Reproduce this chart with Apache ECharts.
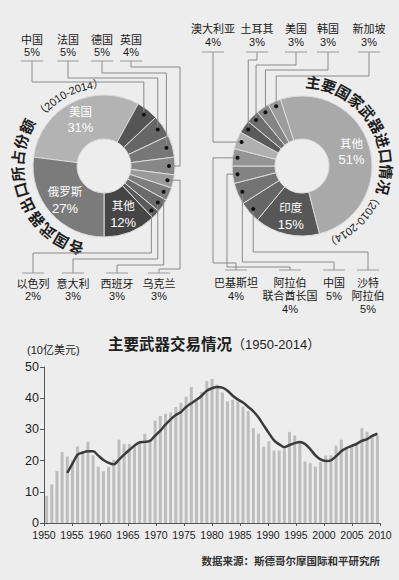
<!DOCTYPE html>
<html>
<head>
<meta charset="utf-8">
<script src="https://cdn.jsdelivr.net/npm/echarts@6/dist/echarts.min.js"></script>
<style>
  html, body { margin: 0; padding: 0; background: #ededed; }
  #chart { width: 399px; height: 580px; }
</style>
</head>
<body>
<div id="chart"></div>
<script>
// 各国武器出口所占份额（2010-2014），顺时针
var exportNames = ['美国', '中国', '法国', '德国', '英国', '乌克兰', '西班牙', '意大利', '以色列', '其他', '俄罗斯'];
var exportValues = [31, 5, 5, 5, 4, 3, 3, 3, 2, 12, 27];
var exportInside = ['美国', '其他', '俄罗斯'];

// 主要国家武器进口情况（2010-2014），顺时针
var importNames = ['其他', '印度', '沙特\n阿拉伯', '中国', '阿拉伯\n联合酋长国', '巴基斯坦', '澳大利亚', '土耳其', '美国', '韩国', '新加坡'];
var importValues = [51, 15, 5, 5, 4, 4, 4, 3, 3, 3, 3];
var importInside = ['其他', '印度'];

// 主要武器交易情况（1950-2014），单位：10亿美元
var years = [1950, 1951, 1952, 1953, 1954, 1955, 1956, 1957, 1958, 1959,
  1960, 1961, 1962, 1963, 1964, 1965, 1966, 1967, 1968, 1969,
  1970, 1971, 1972, 1973, 1974, 1975, 1976, 1977, 1978, 1979,
  1980, 1981, 1982, 1983, 1984, 1985, 1986, 1987, 1988, 1989,
  1990, 1991, 1992, 1993, 1994, 1995, 1996, 1997, 1998, 1999,
  2000, 2001, 2002, 2003, 2004, 2005, 2006, 2007, 2008, 2009,
  2010, 2011, 2012, 2013, 2014];
var tradeValues = [8.7, 12.4, 16.7, 22.8, 21.3, 20.0, 24.6, 23.0, 26.0, 21.7,
  18.0, 16.6, 18.0, 20.3, 26.7, 25.3, 25.3, 25.0, 25.8, 28.6,
  26.4, 32.8, 34.3, 35.0, 35.4, 37.2, 38.5, 40.5, 43.6, 39.0,
  42.0, 45.5, 46.2, 44.3, 41.8, 39.0, 39.5, 40.0, 37.3, 35.9,
  30.4, 28.6, 24.5, 26.2, 23.2, 23.2, 23.8, 29.2, 28.0, 25.8,
  19.7, 19.2, 18.1, 19.5, 21.6, 21.7, 24.8, 26.7, 24.0, 24.5,
  25.4, 30.4, 29.3, 27.5, 28.0];
var trendValues = [null, null, null, null, 16.1, 19.0, 21.9, 22.6, 23.0, 23.0,
  21.6, 20.2, 19.3, 18.8, 20.3, 21.9, 23.4, 24.8, 25.9, 26.0,
  26.3, 28.0, 29.6, 31.5, 33.2, 34.6, 35.6, 37.2, 38.4, 39.5,
  40.8, 42.4, 43.2, 43.6, 43.4, 42.4, 40.8, 39.6, 38.6, 37.2,
  35.8, 33.8, 31.3, 28.8, 26.5, 25.2, 24.3, 25.0, 25.6, 26.0,
  25.3, 23.7, 21.7, 20.4, 19.9, 20.1, 21.4, 23.0, 24.0, 24.7,
  25.4, 26.3, 26.9, 27.9, 28.6];

// 样式
var FONT = "'Liberation Sans', 'Noto Sans CJK SC', sans-serif";
var exportColors = ['#b3b3b3', '#555555', '#666666', '#777777', '#878787', '#9a9a9a', '#7d7d7d', '#6a6a6a', '#5a5a5a', '#454545', '#7b7b7b'];
var importColors = ['#a9a9a9', '#575757', '#666666', '#737373', '#838383', '#959595', '#b0b0b0', '#5a5a5a', '#6e6e6e', '#858585', '#9c9c9c'];

// 饼图位置
var leftPie = { cx: 104, cy: 166, r0: 27, r: 71, start: -82.8 };   // start: 从正上方顺时针的角度
var rightPie = { cx: 302, cy: 166, r0: 27, r: 70, start: -18 };
var DOT_R = 65;

// 引线布局：x 标签中心，laneY 水平段，laneX 先横向走的竖线
var exportLeaders = {
  1: { x: 32, top: true, laneY: 82 },
  2: { x: 68, top: true, laneY: 78 },
  3: { x: 102, top: true, laneY: 73 },
  4: { x: 131, top: true, laneY: 67, laneX: 180 },
  5: { x: 159, top: false, laneY: 269, laneX: 180 },
  6: { x: 117, top: false, laneY: 265 },
  7: { x: 73, top: false, laneY: 259 },
  8: { x: 33, top: false, laneY: 253 }
};
var importLeaders = {
  2: { x: 368, top: false, laneY: 252 },
  3: { x: 334, top: false, laneY: 262 },
  4: { x: 290, top: false, laneY: 267, laneX: 227 },
  5: { x: 236, top: false, laneY: 263, laneX: 213 },
  6: { x: 213, top: true, laneY: 52, laneX: 213 },
  7: { x: 257, top: true, laneY: 60 },
  8: { x: 296, top: true, laneY: 65 },
  9: { x: 328, top: true, laneY: 70 },
  10: { x: 369, top: true, laneY: 76 }
};

var chart = echarts.init(document.getElementById('chart'), null, { renderer: 'svg' });
var ctx = document.createElement('canvas').getContext('2d');

function midAngles(values, start) {
  var total = values.reduce(function (a, b) { return a + b; }, 0);
  var cum = 0;
  return values.map(function (v) {
    var a = start + (cum + v / 2) / total * 360;
    cum += v;
    return a;
  });
}

function pieData(names, values, colors, inside) {
  return names.map(function (n, i) {
    return {
      name: n,
      value: values[i],
      itemStyle: { color: colors[i] },
      label: { show: inside.indexOf(n) >= 0 }
    };
  });
}

// 沿圆弧排文字
function arcText(cx, cy, r, startDeg, text, size, weight, spacing) {
  ctx.font = weight + ' ' + size + 'px ' + FONT;
  var out = [];
  var theta = startDeg;
  var prevW = 0;
  for (var i = 0; i < text.length; i++) {
    var ch = text[i];
    var w = ctx.measureText(ch).width;
    if (i > 0) theta += (prevW / 2 + spacing + w / 2) / r * 180 / Math.PI;
    prevW = w;
    var rad = theta * Math.PI / 180;
    out.push({
      type: 'text',
      x: cx + r * Math.sin(rad),
      y: cy - r * Math.cos(rad),
      rotation: -rad,
      z: 10,
      silent: true,
      style: {
        text: ch, fontSize: size, fontWeight: weight, fontFamily: FONT,
        fill: '#1e1e1e', align: 'center', verticalAlign: 'middle'
      }
    });
  }
  return out;
}

// 小扇区的黑点、引线、标签
function leaders(pie, names, values, layout, topUl, bottomUl, topName, bottomName, lh) {
  var mids = midAngles(values, pie.start);
  var out = [];
  Object.keys(layout).forEach(function (k) {
    var i = +k;
    var L = layout[k];
    var rad = mids[i] * Math.PI / 180;
    var dx = pie.cx + DOT_R * Math.sin(rad);
    var dy = pie.cy - DOT_R * Math.cos(rad);
    var ul = L.top ? topUl : bottomUl;
    var pts = [[dx, dy]];
    if (L.laneX != null) {
      pts.push([L.laneX, dy], [L.laneX, L.laneY]);
    } else {
      pts.push([dx, L.laneY]);
    }
    pts.push([L.x, L.laneY], [L.x, ul]);
    out.push({
      type: 'polyline', z: 10, silent: true,
      shape: { points: pts },
      style: { stroke: '#8a8a8a', lineWidth: 1, fill: null }
    });
    out.push({
      type: 'line', z: 10, silent: true,
      shape: { x1: L.x - 11, y1: ul, x2: L.x + 11, y2: ul },
      style: { stroke: '#9a9a9a', lineWidth: 1 }
    });
    out.push({
      type: 'circle', z: 11, silent: true,
      shape: { cx: dx, cy: dy, r: 2 },
      style: { fill: '#111' }
    });
    var nameY = L.top ? topName : bottomName;
    out.push({
      type: 'text', z: 10, silent: true,
      x: L.x, y: nameY - lh / 2,
      style: {
        text: names[i] + '\n' + values[i] + '%',
        fontSize: 11, fontFamily: FONT, fill: '#1a1a1a',
        align: 'center', verticalAlign: 'top', lineHeight: lh
      }
    });
  });
  return out;
}

var insideLabel = {
  position: 'inside',
  formatter: function (p) { return '{n|' + p.name + '}\n{v|' + p.value + '%}'; },
  rich: {
    n: { fontSize: 11.5, color: '#fff', lineHeight: 16, fontFamily: FONT },
    v: { fontSize: 13, color: '#fff', lineHeight: 16, fontFamily: FONT }
  }
};

function pieSeries(pie, data) {
  return {
    type: 'pie',
    silent: true,
    center: [pie.cx, pie.cy],
    radius: [pie.r0, pie.r],
    startAngle: 90 - pie.start,
    clockwise: true,
    avoidLabelOverlap: false,
    label: insideLabel,
    labelLine: { show: false },
    itemStyle: { borderColor: '#dcdcdc', borderWidth: 1 },
    emphasis: { disabled: true },
    data: data
  };
}

var graphics = []
  .concat(arcText(leftPie.cx, leftPie.cy, 86, 199, '各国武器出口所占份额', 15, 'bold', 1.4))
  .concat(arcText(leftPie.cx, leftPie.cy, 82, 311, '（2010-2014）', 11, 'normal', 0.1))
  .concat(arcText(rightPie.cx, rightPie.cy, 84, 7.7, '主要国家武器进口情况', 15, 'bold', 0.8))
  .concat(arcText(rightPie.cx, rightPie.cy, 81, 113.6, '（2010-2014）', 11, 'normal', 0.1))
  .concat(leaders(leftPie, exportNames, exportValues, exportLeaders, 61, 273, 40, 284, 12))
  .concat(leaders(rightPie, importNames, importValues, importLeaders, 52, 270, 29, 283, 12.8));

graphics.push({
  type: 'text', silent: true, x: 27, y: 350,
  style: { text: '(10亿美元)', fontSize: 11, fontFamily: FONT, fill: '#222', align: 'left', verticalAlign: 'middle' }
});

var option = {
  backgroundColor: '#ededed',
  animation: false,
  title: [
    {
      text: '{a|主要武器交易情况}{b|（1950-2014）}',
      left: 108, top: 337, padding: 0,
      textStyle: {
        rich: {
          a: { fontSize: 15.5, fontWeight: 'bold', color: '#1e1e1e', fontFamily: FONT },
          b: { fontSize: 13, fontWeight: 'normal', color: '#1e1e1e', fontFamily: FONT }
        }
      }
    },
    {
      text: '数据来源：斯德哥尔摩国际和平研究所',
      right: 19, top: 556, padding: 0,
      textStyle: { fontSize: 10.5, fontWeight: 'bold', color: '#333', fontFamily: FONT }
    }
  ],
  grid: { left: 44, right: 19, top: 367, bottom: 57 },
  xAxis: [
    {
      type: 'category', data: years, show: false, boundaryGap: true
    },
    {
      type: 'value', min: 1950, max: 2010, interval: 5, position: 'bottom',
      splitLine: { show: false },
      axisLine: { show: true, lineStyle: { color: '#555', width: 1 } },
      axisTick: { show: true, length: 3, lineStyle: { color: '#555' } },
      axisLabel: {
        color: '#222', fontSize: 10.5, margin: 6,
        fontFamily: "'Liberation Sans Narrow', 'Liberation Sans', sans-serif",
        formatter: function (v) { return String(v); }
      }
    }
  ],
  yAxis: {
    type: 'value', min: 0, max: 50, interval: 10,
    splitLine: { show: false },
    axisLine: { show: true, lineStyle: { color: '#555', width: 1 } },
    axisTick: { show: true, length: 4, lineStyle: { color: '#555' } },
    axisLabel: { color: '#1e1e1e', fontSize: 12.5, margin: 5, fontFamily: FONT }
  },
  series: [
    pieSeries(leftPie, pieData(exportNames, exportValues, exportColors, exportInside)),
    pieSeries(rightPie, pieData(importNames, importValues, importColors, importInside)),
    {
      type: 'bar', xAxisIndex: 0, data: tradeValues, barWidth: 3, silent: true,
      itemStyle: { color: '#bdbdbd' }
    },
    {
      type: 'line', xAxisIndex: 0, data: trendValues, smooth: 0.3, symbol: 'none', silent: true,
      connectNulls: false,
      lineStyle: { color: '#3b3b3b', width: 2.5 }
    }
  ],
  graphic: graphics
};

chart.setOption(option);
</script>
</body>
</html>
